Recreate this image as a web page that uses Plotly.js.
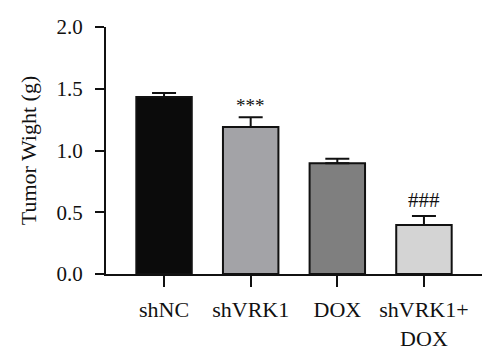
<!DOCTYPE html>
<html>
<head>
<meta charset="utf-8">
<script src="https://cdn.plot.ly/plotly-3.0.1.min.js"></script>
<style>html,body{margin:0;padding:0;background:#fff;}#chart{width:500px;height:361px;}</style>
</head>
<body>
<div id="chart"></div>
<script>
const categories = ["shNC", "shVRK1", "DOX", "shVRK1+<br>DOX"];
const weights = [1.433, 1.19, 0.896, 0.397];
const errors = [0.033, 0.08, 0.038, 0.073];
const barColors = ["#0b0b0b", "#a3a3a7", "#7f7f7f", "#d4d4d4"];
const yTicks = [0, 0.5, 1.0, 1.5, 2.0];
const yTickLabels = ["0.0", "0.5", "1.0", "1.5", "2.0"];
const marks = ["", "***", "", "###"];

const font = "Liberation Serif, Times New Roman, serif";

const trace = {
  type: "bar",
  x: categories,
  y: weights,
  width: 0.64,
  marker: { color: barColors, line: { color: "#111", width: 2 } },
  error_y: {
    type: "data",
    symmetric: false,
    array: errors,
    arrayminus: errors.map(() => 0),
    color: "#111",
    thickness: 2,
    width: 12
  },
  hoverinfo: "none"
};

const annotations = [];
marks.forEach((m, i) => {
  if (!m) return;
  const star = m === "***";
  annotations.push({
    x: categories[i],
    y: weights[i] + errors[i],
    xref: "x", yref: "y",
    text: m,
    showarrow: false,
    yanchor: "bottom",
    yshift: star ? -1 : 2,
    font: { family: font, size: star ? 19 : 21, color: "#111" }
  });
});

const layout = {
  width: 500,
  height: 361,
  margin: { l: 106, r: 18, t: 27, b: 87 },
  paper_bgcolor: "#fff",
  plot_bgcolor: "#fff",
  showlegend: false,
  font: { family: font, size: 21, color: "#111" },
  xaxis: {
    type: "category",
    range: [-0.67, 3.67],
    showline: true, linecolor: "#111", linewidth: 2,
    ticks: "outside", ticklen: 11, tickwidth: 2, tickcolor: "#111",
    showgrid: false, zeroline: false,
    tickfont: { family: font, size: 22, color: "#111" },
    ticklabelstandoff: 4
  },
  yaxis: {
    range: [0, 2],
    tickvals: yTicks,
    ticktext: yTickLabels,
    showline: true, linecolor: "#111", linewidth: 2,
    ticks: "outside", ticklen: 9, tickwidth: 2, tickcolor: "#111",
    showgrid: false, zeroline: false,
    tickfont: { family: font, size: 21, color: "#111" },
    ticklabelstandoff: 8,
    title: { text: "Tumor Wight (g)", font: { family: font, size: 22, color: "#111" }, standoff: 14 }
  },
  annotations: annotations
};

Plotly.newPlot("chart", [trace], layout, { staticPlot: true, displayModeBar: false });
</script>
</body>
</html>
